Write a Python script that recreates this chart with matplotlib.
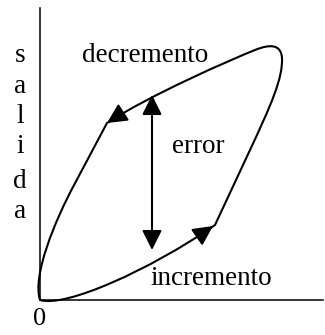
import numpy as np
import matplotlib
matplotlib.use("Agg")
import matplotlib.pyplot as plt
from matplotlib.path import Path
from matplotlib.patches import PathPatch

plt.rcParams['font.family'] = ['Liberation Serif', 'DejaVu Serif']

# hysteresis loop, control points of cubic Bezier pieces (input, output units)
loop_verts = [
    (0, 0), (25, -8), (110, 30), (175, 75),        # incremento branch
    (210, 150),                                      # straight segment
    (231, 195), (243, 222), (242, 242),              # turn at top right
    (241, 256), (230, 256), (215, 250),
    (190, 240), (110, 205), (67, 177),               # decremento branch
    (33, 113),                                       # straight segment
    (16, 81), (-8, 25), (0, 0),                      # back to origin
]
loop_codes = [Path.MOVETO] + [Path.CURVE4] * 3 + [Path.LINETO] + [Path.CURVE4] * 9 \
             + [Path.LINETO] + [Path.CURVE4] * 3

# arrow heads on the loop: (tip, direction)
inc_tip, inc_dir = (173, 74), (65, 45)
dec_tip, dec_dir = (67, 177), (-43, -28)

# error arrow
err_x = 112
err_low, err_high = 50, 205

labels = ["decremento", "error", "incremento"]
label_pos = [(42, 238), (132, 147), (110, 15)]
ylabel_letters = list("salida")
ylabel_y = [238, 207, 177, 147, 112, 82]

fig = plt.figure(figsize=(3.25, 3.35), dpi=100)
ax = fig.add_axes([0, 0, 1, 1])
ax.set_xlim(-40, 285)
ax.set_ylim(-35, 300)

for s in ['top', 'right']:
    ax.spines[s].set_visible(False)
ax.spines['left'].set_position(('data', 0))
ax.spines['bottom'].set_position(('data', 0))
ax.spines['left'].set_bounds(0, 292)
ax.spines['bottom'].set_bounds(0, 283)
ax.spines['left'].set_linewidth(1.1)
ax.spines['bottom'].set_linewidth(1.1)
ax.set_yticks([])
ax.set_xticks([0])
ax.set_xticklabels(["0"], fontsize=19)
ax.tick_params(axis='x', length=0, pad=6)

ax.add_patch(PathPatch(Path(loop_verts, loop_codes), fill=False, lw=1.5, ec='black'))

style = '-|>,head_length=0.6,head_width=0.3'
for tip, d in [(inc_tip, inc_dir), (dec_tip, dec_dir)]:
    d = np.array(d, float) / np.hypot(*d)
    start = np.array(tip) - d * 15
    ax.annotate('', xy=tip, xytext=start,
                arrowprops=dict(arrowstyle=style, color='black', lw=1.5,
                                mutation_scale=20, shrinkA=0, shrinkB=0))

ax.annotate('', xy=(err_x, err_low), xytext=(err_x, err_high),
            arrowprops=dict(arrowstyle='<|-|>,head_length=0.6,head_width=0.3',
                            color='black', lw=1.5, mutation_scale=20,
                            shrinkA=0, shrinkB=0))

for txt, (x, y) in zip(labels, label_pos):
    ax.text(x, y, txt, fontsize=19.5, ha='left', va='baseline')

for ch, y in zip(ylabel_letters, ylabel_y):
    ax.text(-20, y, ch, fontsize=19.5, ha='center', va='baseline')

fig.savefig('out.png', dpi=100)
